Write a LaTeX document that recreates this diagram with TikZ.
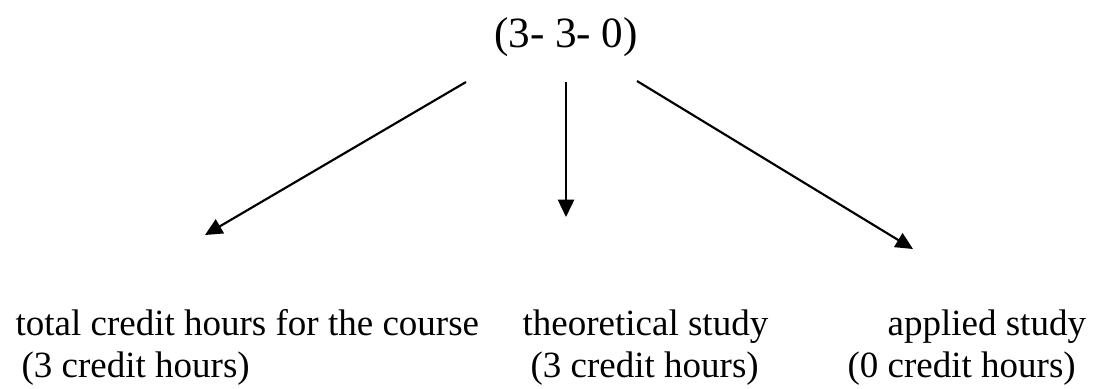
\documentclass[tikz,border=0pt]{standalone}
\usepackage{fontspec}
\setmainfont{Liberation Serif}
\usepackage{tikz}
\usetikzlibrary{arrows.meta}

\begin{document}
\begin{tikzpicture}[
    x=0.3243pt, y=-0.3243pt,
    every node/.style={font=\fontsize{12}{14}\selectfont, inner sep=0pt},
    title/.style={font=\fontsize{14}{16}\selectfont, anchor=base},
    label/.style={anchor=base west},
    arrow/.style={-{Triangle[length=5.6pt, width=5.2pt]}, line width=0.7pt}
]
\useasboundingbox (0,0) rectangle (1094,388);

\node[title] (code) at (566,47) {(3- 3- 0)};

\node[label] (total) at (15,335) {total credit hours for the course};
\node[label] (totalhrs) at (21,377) {(3 credit hours)};
\node[label] (theory) at (522,335) {theoretical study};
\node[label] (theoryhrs) at (530,377) {(3 credit hours)};
\node[label] (applied) at (887,335) {applied study};
\node[label] (appliedhrs) at (847,377) {(0 credit hours)};

\coordinate (total-from) at (466,82);
\coordinate (total-to) at (205,235);
\coordinate (theory-from) at (566,82);
\coordinate (theory-to) at (566,217);
\coordinate (applied-from) at (637,81);
\coordinate (applied-to) at (913,249);

\foreach \i in {total, theory, applied}
    \draw[arrow] (\i-from) -- (\i-to);

\end{tikzpicture}
\end{document}
